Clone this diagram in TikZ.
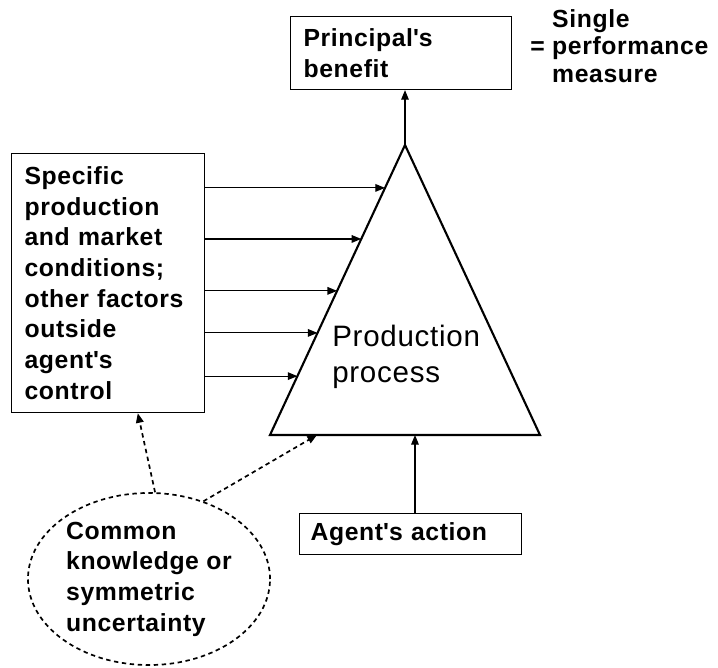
\documentclass[tikz,border=0pt]{standalone}
\usepackage{fontspec}
\setmainfont{Liberation Sans}[LetterSpace=2.5]
\usetikzlibrary{positioning, arrows.meta, shapes.geometric, calc}
\definecolor{lineColor}{RGB}{0, 0, 0}
\newcommand{\apos}{\textquotesingle}
\tikzset{
    pa_box/.style={
        rectangle,
        draw=lineColor,
        line width=0.8pt,
        align=left,
        anchor=north west,
        inner xsep=0.325cm,
        font=\bfseries\fontsize{17.6}{21.8}\selectfont
    },
    pa_belief/.style={
        ellipse,
        draw=lineColor,
        line width=1.2pt,
        dash pattern=on 1.1mm off 0.9mm,
        align=left,
        inner sep=0pt,
        minimum width=6.05cm,
        minimum height=4.3cm,
        font=\bfseries\fontsize{17.6}{21.8}\selectfont
    },
    pa_text/.style={
        align=left,
        inner sep=0pt,
        font=\bfseries\fontsize{17.6}{19.6}\selectfont
    },
    pa_process/.style={
        align=left,
        inner sep=0pt,
        font=\fontsize{21}{25.5}\selectfont
    },
    pa_triangle/.style={
        draw=lineColor,
        line width=1.5pt,
        line join=miter
    },
    pa_edge/.style={
        -{Triangle[length=2.4mm,width=1.9mm]},
        line width=0.8pt,
        draw=lineColor
    },
    pa_dash/.style={
        pa_edge,
        line width=1.2pt,
        dash pattern=on 1.1mm off 0.9mm
    }
}
\begin{document}
\begin{tikzpicture}[x=0.025cm, y=-0.025cm]
    \useasboundingbox (0,0) rectangle (718,668);

    \coordinate (apex) at (405,145);
    \coordinate (bl) at (270,435);
    \coordinate (br) at (540,435);
    \draw[pa_triangle] (apex) -- (bl) -- (br) -- cycle;

    \node[pa_box, text width=4.875cm, minimum height=1.825cm] (benefit) at (290,16) {Principal\apos s\\benefit};
    \node[pa_text, anchor=north west] (measure) at (530,9) {\phantom{= }Single\\= performance\\\phantom{= }measure};
    \node[pa_box, text width=4.175cm, minimum height=6.475cm] (cond) at (11,153)
        {Specific\\production\\and market\\conditions;\\other factors\\outside\\agent\apos s\\control};
    \node[pa_process, anchor=west] (proc) at (332,357) {Production\\process};
    \node[pa_box, inner xsep=0.275cm, text width=5.0cm, minimum height=1.025cm] (action) at (299,513) {Agent\apos s action};
    \node[pa_belief] (belief) at (149,579) {Common\\knowledge or\\symmetric\\uncertainty};

    \draw[pa_edge] (apex) -- (apex |- benefit.south);

    \foreach \t [count=\i] in {0.148, 0.324, 0.503, 0.648, 0.797} {
        \coordinate (in\i) at ($(apex)!\t!(bl)$);
        \draw[pa_edge] (cond.east |- in\i) -- (in\i);
    }

    \coordinate (act_in) at ($(bl)!0.537!(br)$);
    \coordinate (base_in) at ($(bl)!0.174!(br)$);
    \coordinate (cond_in) at ($(cond.south west)!0.653!(cond.south east)$);

    \draw[pa_edge] (action.north -| act_in) -- (act_in);
    \draw[pa_dash] (belief.86) -- (cond_in);
    \draw[pa_dash] (belief.55) -- (base_in);
\end{tikzpicture}
\end{document}
